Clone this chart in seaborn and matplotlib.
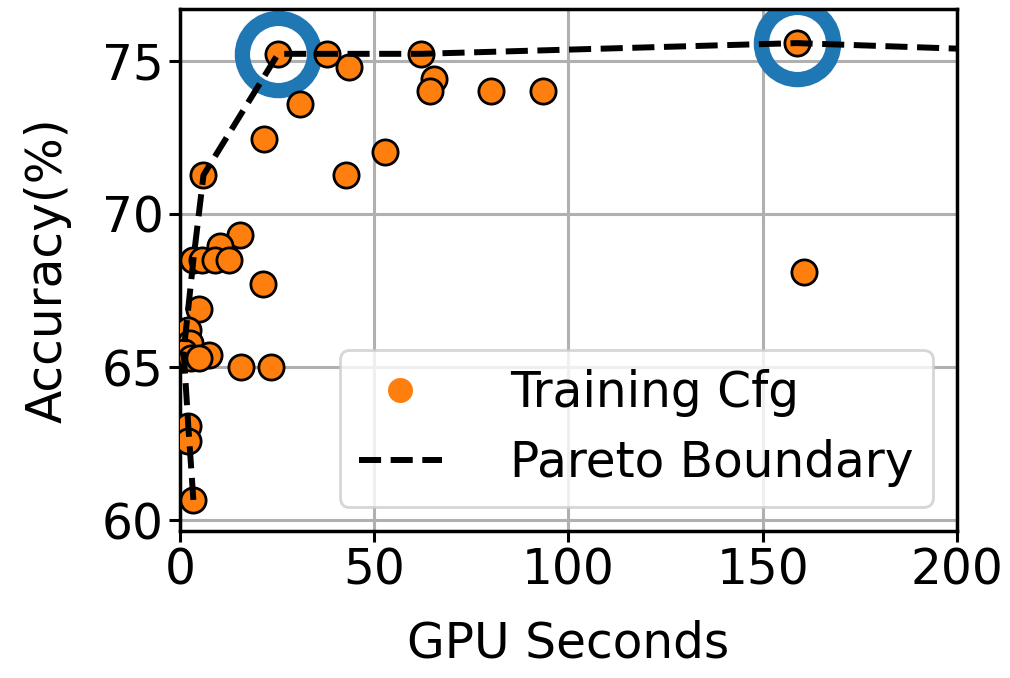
import matplotlib
matplotlib.use("Agg")
import matplotlib.pyplot as plt
import seaborn as sns
import pandas as pd
from matplotlib.lines import Line2D

# Training configurations (GPU seconds, accuracy %)
gpu_seconds = [25.3, 38.0, 43.6, 30.9, 21.8, 6.1, 42.7, 52.8, 62.1, 65.5, 64.3,
               80.2, 93.4, 158.8, 160.7,
               15.4, 10.4, 3.5, 5.7, 9.1, 12.6, 21.4, 5.0, 2.2, 2.7,
               7.4, 1.0, 3.0, 5.0, 15.8, 23.6, 2.2, 2.2, 3.5]
accuracy = [75.23, 75.23, 74.79, 73.6, 72.44, 71.27, 71.27, 72.04, 75.23, 74.41, 74.0,
            74.0, 74.0, 75.58, 68.1,
            69.3, 68.96, 68.5, 68.5, 68.5, 68.5, 67.7, 66.9, 66.2, 65.8,
            65.4, 65.5, 65.3, 65.3, 65.0, 65.0, 63.06, 62.6, 60.66]

# Pareto boundary
pareto_x = [3.5, 2.2, 1.0, 3.5, 6.1, 25.3, 38.0, 62.1, 158.8, 200.0]
pareto_y = [60.66, 63.06, 65.5, 68.5, 71.27, 75.23, 75.23, 75.23, 75.58, 75.4]

# Highlighted configurations
highlight_x = [25.3, 158.8]
highlight_y = [75.23, 75.58]

df_pts = pd.DataFrame({"GPU Seconds": gpu_seconds, "Accuracy": accuracy})
df_par = pd.DataFrame({"x": pareto_x, "y": pareto_y})

plt.rcParams["font.family"] = ["DejaVu Sans"]
fs = 35

fig = plt.figure(figsize=(10.1, 6.78), dpi=100)
ax = fig.add_axes([0.178, 0.217, 0.7695, 0.770])

ax.grid(True, color="#b0b0b0", linewidth=2.2, zorder=0)
ax.set_axisbelow(True)

ax.plot(highlight_x, highlight_y, linestyle="none", marker="o", markersize=52,
        markerfacecolor="none", markeredgecolor="#1f77b4", markeredgewidth=11, zorder=2)

sns.scatterplot(data=df_pts, x="GPU Seconds", y="Accuracy", ax=ax, s=330,
                color="#ff7f0e", edgecolor="black", linewidth=2, zorder=3, legend=False)

sns.lineplot(data=df_par, x="x", y="y", ax=ax, sort=False, estimator=None,
             color="black", linestyle="--", linewidth=4.3, zorder=4, legend=False)

ax.set_xlim(0, 200)
ax.set_ylim(59.65, 76.7)
ax.set_xticks([0, 50, 100, 150, 200])
ax.set_yticks([60, 65, 70, 75])
ax.tick_params(labelsize=fs, width=2.2, length=8)
for sp in ax.spines.values():
    sp.set_linewidth(2.5)
    sp.set_color("black")

ax.set_xlabel("GPU Seconds", fontsize=fs, labelpad=18)
ax.set_ylabel("Accuracy(%)", fontsize=fs, labelpad=22)

handles = [
    Line2D([], [], linestyle="none", marker="o", markersize=18,
           markerfacecolor="#ff7f0e", markeredgewidth=0, label="Training Cfg"),
    Line2D([], [], color="black", linestyle="--", linewidth=4.3, label="Pareto Boundary"),
]
leg = ax.legend(handles=handles, loc="lower right", fontsize=fs, framealpha=0.8,
                handlelength=1.7, handletextpad=1.4, labelspacing=0.45)
leg.get_frame().set_linewidth(2)

fig.savefig("out.png", dpi=100)
